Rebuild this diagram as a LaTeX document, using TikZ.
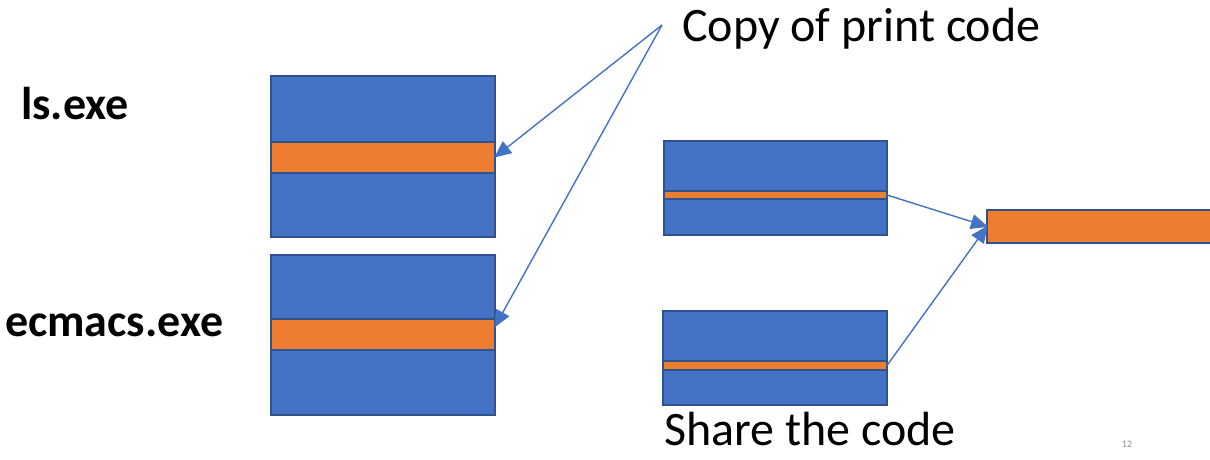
\documentclass[tikz,border=0pt]{standalone}
\usepackage{fontspec}
\setmainfont{Carlito}
\usetikzlibrary{arrows.meta}
\definecolor{boxblue}{HTML}{4472C4}
\definecolor{edgeblue}{HTML}{2F528F}
\definecolor{codeorange}{HTML}{ED7D31}
\definecolor{pagegray}{HTML}{8C8C8C}
\tikzset{
  block/.style={draw=edgeblue, line width=2pt, fill=boxblue, inner sep=0pt, outer sep=0pt},
  band/.style={draw=edgeblue, line width=2pt, fill=codeorange, inner sep=0pt, outer sep=0pt},
  link/.style={draw=boxblue, line width=1.4pt, -{Triangle[length=17pt,width=15pt]}, shorten >=-1pt},
  label/.style={font=\fontsize{48}{52}\selectfont, inner sep=0pt, anchor=base west},
  exe/.style={font=\bfseries\fontsize{46}{50}\selectfont, inner sep=0pt, anchor=base west}
}
\begin{document}
\begin{tikzpicture}[x=1pt,y=-1pt]
  \useasboundingbox (0,0) rectangle (1210,459);

  % two executables, each with its own copy of the print code
  \draw[block] (271,76) rectangle (495,237);
  \node[band, minimum width=224pt, minimum height=31pt] (band1) at (383,157) {};
  \draw[block] (271,255) rectangle (495,415);
  \node[band, minimum width=224pt, minimum height=31pt] (band2) at (383,334.5) {};

  % two executables sharing a single copy
  \draw[block] (664,141) rectangle (887,235);
  \node[band, minimum width=223pt, minimum height=8pt] (bandA) at (775.5,195) {};
  \draw[block] (663,311) rectangle (887,405);
  \node[band, minimum width=224pt, minimum height=9pt] (bandB) at (775,365.5) {};
  \node[band, minimum width=240pt, minimum height=33pt] (shared) at (1107,226.5) {};

  % labels
  \node[exe] (ls) at (21,119) {ls.exe};
  \node[exe] (ecmacs) at (5,336) {ecmacs.exe};
  \node[label] (copy) at (682,41) {Copy of print code};
  \node[label] (share) at (664,445) {Share the code};
  \node[font=\fontsize{10}{12}\selectfont, text=pagegray, inner sep=0pt] (page) at (1127,444) {12};

  % connectors
  \coordinate (src) at (662,25);
  \coordinate (tip2) at ([yshift=8pt]band2.east);
  \draw[link] (src) -- (band1.east);
  \draw[link] (src) -- (tip2);
  \draw[link] (bandA.east) -- (shared.west);
  \draw[link] (bandB.east) -- (shared.west);
\end{tikzpicture}
\end{document}
